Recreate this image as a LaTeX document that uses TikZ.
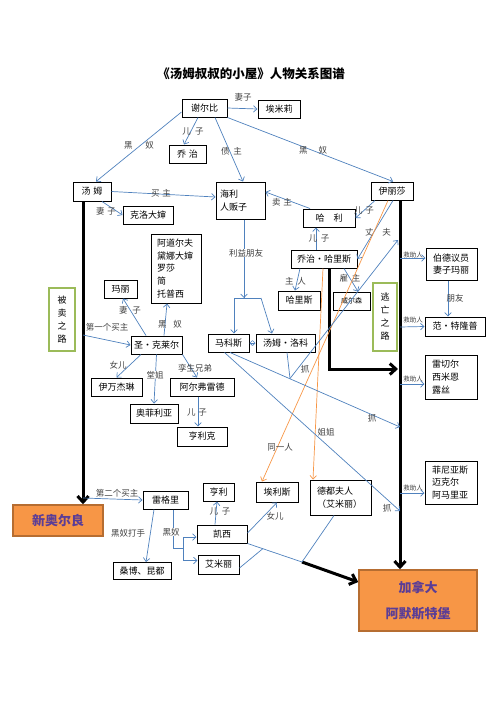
\documentclass[tikz,border=0pt]{standalone}
\usepackage{fontspec}
\setmainfont{Noto Sans CJK SC}
\usetikzlibrary{arrows.meta}
\definecolor{lineblue}{HTML}{4F81BD}
\definecolor{lineorange}{HTML}{F79646}
\definecolor{roadgreen}{HTML}{9BBB59}
\definecolor{placefill}{HTML}{F79646}
\definecolor{placedraw}{HTML}{B66D31}
\definecolor{placetext}{HTML}{5B3D96}

\begin{document}
\begin{tikzpicture}[x=1pt, y=-1pt,
  box/.style={draw, line width=1pt, inner sep=0pt, font=\fontsize{9}{12.8}\selectfont},
  lbl/.style={inner sep=0.5pt, text=black!75, font=\fontsize{8.5}{10}\selectfont},
  help/.style={inner sep=0.5pt, text=black!75, font=\fontsize{6.5}{8}\selectfont},
  rel/.style={draw=lineblue, line width=0.7pt, -{Straight Barb[length=3.5pt,width=6.5pt]}},
  kin/.style={draw=lineorange, line width=0.7pt, -{Straight Barb[length=3.5pt,width=6.5pt]}},
  road/.style={line width=3pt, -{Straight Barb[length=6pt,width=11pt]}},
  way/.style={draw=roadgreen, line width=1.5pt, inner sep=0pt, align=center, font=\fontsize{9}{13}\selectfont},
  place/.style={draw=placedraw, fill=placefill, line width=1.5pt, align=center, text=placetext, font=\fontsize{13}{26}\selectfont\bfseries}]
  \useasboundingbox (0,0) rectangle (496,702);

  \node[font=\fontsize{12.5}{14}\selectfont\bfseries] (title) at (251,74) {《汤姆叔叔的小屋》人物关系图谱};

  % people
  \node[box, minimum width=45, minimum height=18] (shelby) at (204.5,108) {谢尔比};
  \node[box, minimum width=42, minimum height=18] (emily) at (279,109) {埃米莉};
  \node[box, minimum width=37, minimum height=18] (george) at (187.5,154) {乔\,\,治};
  \node[box, minimum width=38, minimum height=19] (tom) at (92,191.5) {汤\,\,姆};
  \node[box, minimum width=49, minimum height=37, text width=41, align=left] (haley) at (240.5,200.5) {海利\\人贩子};
  \node[box, minimum width=50, minimum height=18] (chloe) at (148,215) {克洛大婶};
  \node[box, minimum width=50, minimum height=69, text width=38, align=left] (slaves) at (176,268.5) {阿道尔夫\\黛娜大婶\\罗莎\\简\\托普西};
  \node[box, minimum width=42, minimum height=18] (eliza) at (392,191) {伊丽莎};
  \node[box, minimum width=52, minimum height=18] (harry) at (329,218) {哈\quad 利};
  \node[box, minimum width=66, minimum height=18] (gharris) at (324,259) {乔治•哈里斯};
  \node[box, minimum width=42, minimum height=19] (harris) at (299,300.5) {哈里斯};
  \node[box, minimum width=37, minimum height=18, font=\fontsize{7}{8}\selectfont] (wilson) at (351.5,301) {威尔森};
  \node[box, minimum width=41, minimum height=18] (marks) at (228.5,343) {马科斯};
  \node[box, minimum width=59, minimum height=18] (loker) at (285.5,343) {汤姆•洛科};
  \node[box, minimum width=33, minimum height=18] (mary) at (120.5,289) {玛丽};
  \node[box, minimum width=51, minimum height=18] (stclare) at (156.5,345) {圣•克莱尔};
  \node[box, minimum width=51, minimum height=18] (eva) at (116.5,387) {伊万杰琳};
  \node[box, minimum width=64, minimum height=18] (alfred) at (202,387) {阿尔弗雷德};
  \node[box, minimum width=48, minimum height=19] (ophelia) at (154,413.5) {奥菲利亚};
  \node[box, minimum width=50, minimum height=19] (henrique) at (202,436.5) {亨利克};
  \node[box, minimum width=45, minimum height=18] (legree) at (165.5,500) {雷格里};
  \node[box, minimum width=58, minimum height=17] (sambo) at (142,571) {桑博、昆都};
  \node[box, minimum width=50, minimum height=18] (cassy) at (222,534) {凯西};
  \node[box, minimum width=41, minimum height=19] (emmeline) at (218.5,564.5) {艾米丽};
  \node[box, minimum width=31, minimum height=18] (henry) at (218.5,492) {亨利};
  \node[box, minimum width=42, minimum height=20] (elise) at (277,492) {埃利斯};
  \node[box, minimum width=61, minimum height=35, text width=47, align=left] (thoux) at (340.5,497.5) {德都夫人\\（艾米丽）};
  \node[box, minimum width=51, minimum height=32, text width=37, align=left] (bird) at (451.5,264) {伯德议员\\妻子玛丽};
  \node[box, minimum width=60, minimum height=19] (tromp) at (455,326.5) {范•特隆普};
  \node[box, minimum width=52, minimum height=44, text width=38, align=left] (rachel) at (451,377) {雷切尔\\西米恩\\露丝};
  \node[box, minimum width=52, minimum height=43, text width=38, align=left] (phineas) at (451,482.5) {菲尼亚斯\\迈克尔\\阿马里亚};

  % roads and places
  \node[way, minimum width=26, minimum height=63] (sold) at (62,319.5) {被\\卖\\之\\路};
  \node[way, minimum width=24, minimum height=68] (escape) at (385,317) {逃\\亡\\之\\路};
  \node[place, minimum width=90, minimum height=31] (nola) at (58,520.5) {新奥尔良};
  \node[place, minimum width=118, minimum height=61] (canada) at (418,600.5) {加拿大\\阿默斯特堡};

  % free ends
  \coordinate (buyone) at (83,335);
  \coordinate (buytwo) at (83,498);
  \coordinate (helpone) at (400,258);
  \coordinate (helptwo) at (400,327);
  \coordinate (helpthree) at (400,384);
  \coordinate (helpfour) at (400,493);
  \coordinate (catchup) at (398,240);
  \coordinate (catchmid) at (400,427);
  \coordinate (catchlow) at (400,511);
  \coordinate (lokerjoin) at (290,378.5);
  \coordinate (fork) at (244,298);
  \coordinate (forkl) at (234,298);
  \coordinate (forkr) at (261,298);
  \coordinate (escapeend) at (398,369);
  \coordinate (slavefork) at (183,548);
  \coordinate (emjoin) at (263,548.5);
  \coordinate (canadajoin) at (302,562);

  % thick roads
  \draw[road] ([xshift=-9pt]tom.south) -- ([xshift=25pt]nola.north);
  \draw[road] ([xshift=8pt]eliza.south) -- ([xshift=-18pt]canada.north);
  \draw[road] ([xshift=5pt]gharris.south) |- (escapeend);
  \draw[road] (canadajoin) -- ([yshift=18.5pt]canada.west);

  % Shelby
  \draw[rel] (shelby.east) -- (emily.west);
  \node[lbl] (lwife) at (243,97) {妻子};
  \draw[rel] ([xshift=-6.5pt]shelby.south) -- ([xshift=-3.5pt]george.north);
  \node[lbl] (lson) at (193,131) {儿\,\,\,子};
  \draw[rel] ([yshift=-4pt]shelby.west) -- ([xshift=4pt]tom.north);
  \node[lbl] (lslave) at (139,145) {黑\hspace{13pt}奴};
  \draw[rel] ([xshift=10.5pt]shelby.south) -- ([xshift=2.5pt]haley.north);
  \node[lbl] (ldebt) at (231.5,151) {债\hspace{4pt}主};
  \draw[rel] (shelby.south east) -- ([xshift=1pt]eliza.north);
  \node[lbl] (lslavetwo) at (313,150) {黑\hspace{11pt}奴};

  % Tom and Haley
  \draw[rel] (tom.east) -- ([yshift=3.5pt]haley.west);
  \node[lbl] (lbuyer) at (161,193) {买\hspace{3pt}主};
  \draw[rel] ([xshift=10pt]tom.south) -- (chloe.west);
  \node[lbl] (lwifetwo) at (106,211) {妻\hspace{3pt}子};
  \draw[draw=lineblue, line width=0.7pt] ([xshift=3.5pt]haley.south) -- (fork);
  \node[lbl, fill=white] (lfriend) at (246,253) {利益朋友};
  \draw[rel] ([yshift=10pt]fork) -- (fork);
  \draw[draw=lineblue, line width=0.7pt] (forkl) -- (forkr);
  \draw[rel] (forkl) -- ([xshift=5.5pt]marks.north);
  \draw[rel] (forkr) -- ([xshift=-13.5pt]loker.north);
  \draw[rel, {Straight Barb[length=2.5pt,width=5pt]}-{Straight Barb[length=2.5pt,width=5pt]}] (marks.east) -- (loker.west);

  % Eliza and George Harris
  \draw[rel] ([xshift=-17pt]eliza.south) -- (harry.east);
  \node[lbl] (lsontwo) at (364,210) {儿\hspace{3pt}子};
  \draw[rel] ([xshift=-19pt]harry.north) -- ([yshift=8.5pt]haley.east);
  \node[lbl] (lseller) at (282,202) {卖\hspace{3pt}主};
  \draw[rel] ([xshift=-8pt]gharris.north) -- ([xshift=-13pt]harry.south);
  \node[lbl] (lsonthree) at (319,238) {儿\hspace{4pt}子};
  \draw[rel] ([xshift=1pt]eliza.south) -- (gharris.east);
  \node[lbl] (lhusband) at (378,232) {丈\hspace{9pt}夫};
  \draw[rel] ([xshift=-24pt]gharris.south) -- ([xshift=-4pt]harris.north);
  \node[lbl] (lmaster) at (295.5,281) {主\hspace{4pt}人};
  \draw[rel] ([xshift=20pt]gharris.south) -- ([xshift=6.5pt]wilson.north);
  \node[lbl] (lemployer) at (350,278) {雇\hspace{4pt}主};
  \draw[kin] ([xshift=-4pt]eliza.south) -- ([xshift=-15pt]elise.north);
  \node[lbl] (lsame) at (280,447) {同一人};
  \draw[kin] ([xshift=-1pt]gharris.south) -- ([xshift=-27.5pt]thoux.north);
  \node[lbl] (lsister) at (326,432) {姐姐};

  % catchers
  \draw[rel] ([xshift=1.5pt]marks.south) -- (catchmid);
  \node[lbl] (lcatch) at (372,418) {抓};
  \draw[draw=lineblue, line width=0.7pt] ([xshift=1.5pt]loker.south) -- (lokerjoin);
  \draw[rel] (lokerjoin) -- (catchup);
  \node[lbl] (lcatchtwo) at (305,369) {抓};
  \draw[rel] ([xshift=-4pt]marks.south) -- (catchlow);
  \node[lbl] (lcatchthree) at (387,508) {抓};

  % St. Clare
  \draw[rel] (buyone) -- (stclare.west);
  \node[lbl] (lfirst) at (107,327) {第一个买主};
  \draw[rel] ([xshift=-10.5pt]stclare.north) -- ([xshift=2.5pt]mary.south);
  \node[lbl] (lwifethree) at (130,310) {妻\hspace{5pt}子};
  \draw[rel] ([xshift=7.5pt]stclare.north) -- ([xshift=-9pt]slaves.south);
  \node[lbl] (lslavethree) at (170,324) {黑\hspace{7pt}奴};
  \draw[rel] ([xshift=-15.5pt]stclare.south) -- (eva.north);
  \node[lbl] (ldaughter) at (118,365) {女儿};
  \draw[rel] (stclare.south east) -- ([xshift=-5pt]alfred.north);
  \node[lbl] (ltwin) at (195,368) {孪生兄弟};
  \draw[rel] (stclare.south) -- (ophelia.north);
  \node[lbl, fill=white] (lcousin) at (155,375) {堂姐};
  \draw[rel] ([xshift=-4pt]alfred.south) -- ([xshift=-4pt]henrique.north);
  \node[lbl] (lsonfour) at (197,412) {儿\hspace{3pt}子};

  % Legree
  \draw[rel] (buytwo) -- (legree.west);
  \node[lbl] (lsecond) at (117,493) {第二个买主};
  \draw[rel] ([xshift=-11.5pt]legree.south) -- ([xshift=4pt]sambo.north);
  \node[lbl] (lthug) at (128,533) {黑奴打手};
  \draw[draw=lineblue, line width=0.7pt] ([xshift=7.5pt]legree.south) |- (slavefork);
  \node[lbl, fill=white] (lslavefour) at (171,532) {黑奴};
  \draw[rel] (slavefork) |- ([yshift=-3pt]cassy.west);
  \draw[rel] (slavefork) |- ([yshift=4pt]emmeline.west);
  \draw[rel] ([xshift=-7pt]cassy.north) -- ([xshift=-1.5pt]henry.south);
  \node[lbl] (lsonfive) at (220,511) {儿\hspace{4pt}子};
  \draw[rel] ([yshift=1pt]cassy.east) -- (elise.south);
  \node[lbl] (ldaughtertwo) at (275,516) {女儿};
  \draw[draw=lineblue, line width=0.7pt] ([xshift=-6.5pt]thoux.south) -- (canadajoin);
  \draw[draw=lineblue, line width=0.7pt] (cassy.south east) -- (canadajoin);
  \draw[draw=lineblue, line width=0.7pt] ([yshift=-3.5pt]emmeline.east) -- (emjoin);

  % helpers
  \draw[rel] (helpone) -- ([yshift=6pt]bird.west);
  \node[help] (lhelp) at (413,255) {救助人};
  \draw[rel] ([xshift=-3.5pt]bird.south) -- ([xshift=-7pt]tromp.north);
  \node[lbl] (lfriendtwo) at (455,298) {朋友};
  \draw[rel] (helptwo) -- (tromp.west);
  \node[help] (lhelptwo) at (413,320) {救助人};
  \draw[rel] (helpthree) -- ([yshift=-7pt]rachel.west);
  \node[help] (lhelpthree) at (413,379) {救助人};
  \draw[rel] (helpfour) -- ([yshift=-10.5pt]phineas.west);
  \node[help] (lhelpfour) at (413,488) {救助人};
\end{tikzpicture}
\end{document}
